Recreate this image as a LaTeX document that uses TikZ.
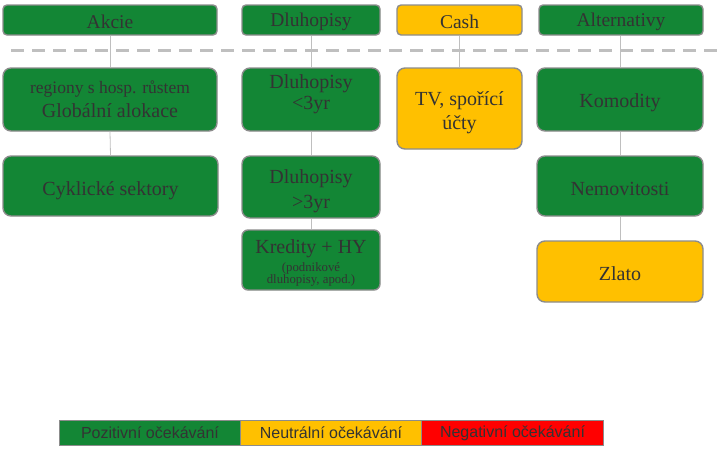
\documentclass[tikz,border=0pt]{standalone}
\usepackage{fontspec}
\setmainfont{Liberation Serif}
\newfontfamily\legendfont{Liberation Sans}
\definecolor{pgreen}{HTML}{138635}
\definecolor{pyellow}{HTML}{FFC000}
\definecolor{pred}{HTML}{FF0000}
\definecolor{bordergray}{HTML}{8C8C8C}
\definecolor{linegray}{HTML}{BFBFBF}
\definecolor{txt}{HTML}{333333}
\tikzset{
  box/.style={draw=bordergray, line width=1.4pt, rounded corners=8pt, inner sep=0pt},
  head/.style={box, rounded corners=4pt, minimum height=30pt},
  green/.style={fill=pgreen},
  yellow/.style={fill=pyellow},
  lbl/.style={text=txt, align=center, inner sep=0pt, font=\fontsize{20}{24}\selectfont},
  hlbl/.style={lbl, font=\fontsize{19.5}{22}\selectfont},
  conn/.style={draw=linegray, line width=0.8pt},
  legbox/.style={draw=bordergray, line width=1pt, text=txt, minimum height=25pt, font=\legendfont\fontsize{16}{18}\selectfont, inner sep=0pt},
}
\begin{document}
\begin{tikzpicture}[x=1pt,y=-1pt]
\useasboundingbox (0,0) rectangle (721,458);
% headers
\node[head,green,minimum width=214pt] (akcie) at (110,20) {};
\node[head,green,minimum width=138pt] (dluh) at (311,20) {};
\node[head,yellow,minimum width=125pt] (cash) at (459.5,20) {};
\node[head,green,minimum width=164pt] (alt) at (621,20) {};
\node[hlbl,yshift=-1.5pt] (akciet) at (akcie) {Akcie};
\node[hlbl,yshift=-1.5pt] (dluht) at (dluh) {Dluhopisy};
\node[hlbl,yshift=-1.5pt] (casht) at (cash) {Cash};
\node[hlbl,yshift=-1.5pt] (altt) at (alt) {Alternativy};
% boxes
\node[box,green,minimum width=214pt,minimum height=63pt] (a1) at (110,99.5) {};
\node[box,green,minimum width=215pt,minimum height=60pt] (a2) at (110.5,186) {};
\node[box,green,minimum width=138pt,minimum height=63pt] (d1) at (311,99.5) {};
\node[box,green,minimum width=138pt,minimum height=62pt] (d2) at (311,187) {};
\node[box,green,rounded corners=6pt,minimum width=138pt,minimum height=60pt] (d3) at (311,260) {};
\node[box,yellow,minimum width=125pt,minimum height=81pt] (c1b) at (459.5,108.5) {};
\node[box,green,minimum width=166pt,minimum height=63pt] (l1) at (620,99.5) {};
\node[box,green,minimum width=166pt,minimum height=60pt] (l2) at (620,186) {};
\node[box,yellow,minimum width=166pt,minimum height=61pt] (l3) at (620,271.5) {};
% texts
\node[lbl] (a1t) at (a1) {{\fontsize{17.5}{22}\selectfont regiony s hosp. růstem}\\Globální alokace};
\node[lbl,yshift=-4.5pt] (a2t) at (a2) {Cyklické sektory};
\node[lbl,yshift=5pt,font=\fontsize{20}{21}\selectfont] (d1t) at (d1) {Dluhopisy\\{<}3yr};
\node[lbl,yshift=-4.5pt,font=\fontsize{20}{25}\selectfont] (d2t) at (d2) {Dluhopisy\\{>}3yr};
\node[lbl,yshift=-3pt] (d3t) at (d3) {Kredity + HY\\[-6pt]{\fontsize{12.8}{15}\selectfont (podnikové}\\[-11.5pt]{\fontsize{12.8}{15}\selectfont dluhopisy, apod.)}};
\node[lbl,yshift=-4pt] (c1t) at (c1b) {TV, spořící\\účty};
\node[lbl,yshift=-3pt] (l1t) at (l1) {Komodity};
\node[lbl,yshift=-3pt] (l2t) at (l2) {Nemovitosti};
\node[lbl,yshift=-2pt] (l3t) at (l3) {Zlato};
% connectors
\draw[conn] (akcie.south) -- (a1.north);
\draw[conn] (a1.south) -- (a2.north);
\draw[conn] (dluh.south) -- (d1.north);
\draw[conn] (d1.south) -- (d2.north);
\draw[conn] (d2.south) -- (d3.north);
\draw[conn] (cash.south) -- (c1b.north);
\draw[conn] ([xshift=-1pt]alt.south) -- (l1.north);
\draw[conn] (l1.south) -- (l2.north);
\draw[conn] (l2.south) -- (l3.north);
% dashed separator
\coordinate (dsL) at (11,50);
\coordinate (dsR) at (721,50);
\draw[draw=linegray, line width=3pt, dash pattern=on 13pt off 8pt] (dsL) -- (dsR);
% legend
\node[legbox,fill=pgreen,minimum width=181pt] (lg) at (150,433) {Pozitivní očekávání};
\node[legbox,fill=pyellow,minimum width=181pt] (ly) at (331,433) {Neutrální očekávání};
\node[legbox,fill=pred,minimum width=182pt] (lr) at (512.5,433) {Negativní očekávání};
\end{tikzpicture}
\end{document}
